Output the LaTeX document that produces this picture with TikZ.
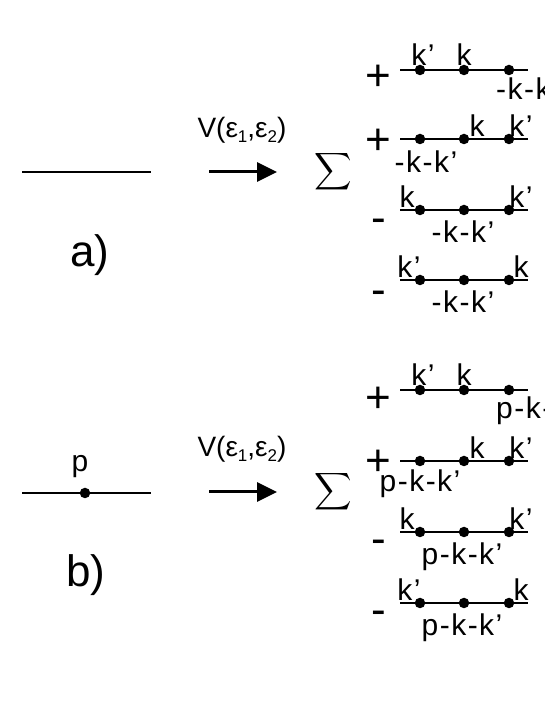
\documentclass[tikz,border=0pt]{standalone}
\usepackage{xcolor}
\usepackage{tikz}
\usepackage{amsmath}
\usepackage{fontspec}
\setmainfont{Liberation Sans}
\usetikzlibrary{arrows.meta, positioning}
\newcommand{\indx}[1]{\raisebox{-5pt}{\fontsize{17}{17}\selectfont #1}}

\begin{document}
\begin{tikzpicture}[x=1pt, y=1pt, >={Triangle[length=20pt, width=19pt]},
  vertex/.style={circle, fill=black, inner sep=0pt, minimum size=10.5pt},
  lbl/.style={font=\fontsize{30}{34}\selectfont\addfontfeature{LetterSpace=5}, inner sep=0pt, anchor=base},
  znak/.style={font=\fontsize{44}{48}\selectfont, inner sep=0pt, anchor=base},
  vlbl/.style={font=\fontsize{28}{32}\selectfont, inner sep=0pt, anchor=base},
  prop/.style={line width=1.1pt}]
  \useasboundingbox (0,0) rectangle (545,705);

  % Cast a)
  \coordinate (aL) at (22,533);
  \coordinate (aR) at (151,533);
  \draw[prop] (aL) -- (aR);
  \node[znak] (aTag) at (90,438) {a)};
  \coordinate (aA1) at (209,533);
  \coordinate (aA2) at (277,533);
  \draw[->, line width=3pt] (aA1) -- (aA2);
  \node[vlbl] (aV) at (242,567) {V(ε\indx{1},ε\indx{2})};
  \node[inner sep=0pt] (aSum) at (333,533) {\scalebox{2.6}{$\displaystyle\sum$}};

  % Cast b)
  \coordinate (bL) at (22,212);
  \coordinate (bR) at (151,212);
  \draw[prop] (bL) -- (bR);
  \node[vertex] (bP) at (85,212) {};
  \node[lbl] (bPlbl) at (80,233) {p};
  \node[znak] (bTag) at (86,118) {b)};
  \coordinate (bA1) at (209,213);
  \coordinate (bA2) at (277,213);
  \draw[->, line width=3pt] (bA1) -- (bA2);
  \node[vlbl] (bV) at (242,248) {V(ε\indx{1},ε\indx{2})};
  \node[inner sep=0pt] (bSum) at (333,213) {\scalebox{2.6}{$\displaystyle\sum$}};

  % Propagatory
  \foreach \r/\y in {a1/635, a2/566, a3/495, a4/425, b1/315, b2/244, b3/173, b4/102} {
    \coordinate (\r-L) at (400,\y);
    \coordinate (\r-R) at (528,\y);
    \draw[prop] (\r-L) -- (\r-R);
    \node[vertex] (\r-v1) at (420,\y) {};
    \node[vertex] (\r-v2) at (464,\y) {};
    \node[vertex] (\r-v3) at (509,\y) {};
  }

  % Znamenka
  \node[znak] (a1s) at (378,614) {+};
  \node[znak] (a2s) at (378,550) {+};
  \node[znak] (a3s) at (379,472) {-};
  \node[znak] (a4s) at (379,400) {-};
  \node[znak] (b1s) at (378,292) {+};
  \node[znak] (b2s) at (378,229) {+};
  \node[znak] (b3s) at (379,151) {-};
  \node[znak] (b4s) at (379,80) {-};

  % Hybnosti a)
  \node[lbl] (a1k1) at (423,639) {k’};
  \node[lbl] (a1k2) at (464,639) {k};
  \node[lbl, anchor=base west] (a1k3) at (496,605) {-k-k’};
  \node[lbl] (a2k1) at (426,532) {-k-k’};
  \node[lbl] (a2k2) at (477,568) {k};
  \node[lbl] (a2k3) at (521,568) {k’};
  \node[lbl] (a3k1) at (407,497) {k};
  \node[lbl] (a3k2) at (463,462) {-k-k’};
  \node[lbl] (a3k3) at (521,497) {k’};
  \node[lbl] (a4k1) at (409,427) {k’};
  \node[lbl] (a4k2) at (463,392) {-k-k’};
  \node[lbl] (a4k3) at (521,427) {k};

  % Hybnosti b)
  \node[lbl] (b1k1) at (423,319) {k’};
  \node[lbl] (b1k2) at (464,319) {k};
  \node[lbl, anchor=base west] (b1k3) at (496,286) {p-k-k’};
  \node[lbl] (b2k1) at (420,213) {p-k-k’};
  \node[lbl] (b2k2) at (477,246) {k};
  \node[lbl] (b2k3) at (521,246) {k’};
  \node[lbl] (b3k1) at (407,175) {k};
  \node[lbl] (b3k2) at (462,140) {p-k-k’};
  \node[lbl] (b3k3) at (521,175) {k’};
  \node[lbl] (b4k1) at (409,104) {k’};
  \node[lbl] (b4k2) at (462,69) {p-k-k’};
  \node[lbl] (b4k3) at (521,104) {k};
\end{tikzpicture}
\end{document}
